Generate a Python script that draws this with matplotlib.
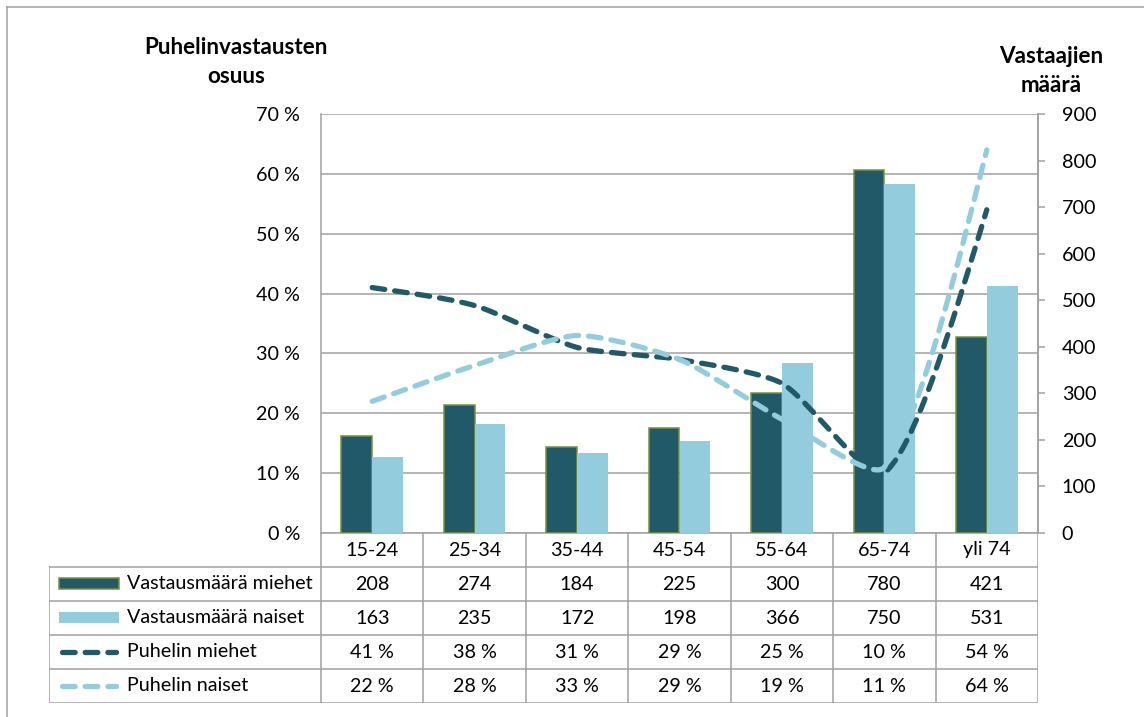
import matplotlib
matplotlib.use("Agg")
import matplotlib.pyplot as plt
import numpy as np
from matplotlib.lines import Line2D
from matplotlib.patches import Rectangle
from matplotlib.ticker import FuncFormatter

# data
categories = ["15-24", "25-34", "35-44", "45-54", "55-64", "65-74", "yli 74"]
count_men = [208, 274, 184, 225, 300, 780, 421]
count_women = [163, 235, 172, 198, 366, 750, 531]
phone_men = [41, 38, 31, 29, 25, 10, 54]
phone_women = [22, 28, 33, 29, 19, 11, 64]

series_names = ["Vastausmäärä miehet", "Vastausmäärä naiset",
                "Puhelin miehet", "Puhelin naiset"]

DARK = "#215968"
LIGHT = "#93CDDD"
EDGE = "#76923C"
GRID = "#a0a0a0"

plt.rcParams['font.family'] = ['Lato', 'DejaVu Sans']
FS = 14.2

W, H = 1144, 717


def fx(px):
    return px / W


def fy(py):
    return 1 - py / H


def smooth(ax, xs, ys, n=40, s=0.22):
    """Excel-like smoothed line: bezier segments, tangents weighted by
    the screen length of the neighbouring segments."""
    p = ax.transData.transform(np.column_stack([xs, ys]).astype(float))
    m = len(p)
    d = np.hypot(*np.diff(p, axis=0).T)
    c_out = np.zeros_like(p)
    c_in = np.zeros_like(p)
    for i in range(m):
        if i == 0 or i == m - 1:
            c_out[i] = p[i]
            c_in[i] = p[i]
            continue
        tan = p[i + 1] - p[i - 1]
        tot = d[i - 1] + d[i]
        c_out[i] = p[i] + tan * s * d[i] / tot
        c_in[i] = p[i] - tan * s * d[i - 1] / tot
    c_out[0] = p[0] + (c_in[1] - p[0]) * 0.5
    c_in[-1] = p[-1] + (c_out[-2] - p[-1]) * 0.5
    t = np.linspace(0, 1, n)[:, None]
    out = []
    for i in range(m - 1):
        a, b, c, e = p[i], c_out[i], c_in[i + 1], p[i + 1]
        seg = (1 - t) ** 3 * a + 3 * (1 - t) ** 2 * t * b \
            + 3 * (1 - t) * t ** 2 * c + t ** 3 * e
        out.append(seg if i == 0 else seg[1:])
    out = ax.transData.inverted().transform(np.vstack(out))
    return out[:, 0], out[:, 1]


fig = plt.figure(figsize=(W / 100, H / 100), dpi=100)

# main plot area
L, R, T, B = 321, 1038, 114, 533
ax = fig.add_axes([fx(L), fy(B), fx(R - L), (B - T) / H])
x = np.arange(len(categories))

ax.set_xlim(-0.5, len(categories) - 0.5)
ax.set_ylim(0, 70)
ax.set_yticks(np.arange(0, 71, 10))
ax.yaxis.set_major_formatter(FuncFormatter(lambda v, p: f"{v:.0f} %"))
ax.grid(axis='y', color=GRID, linewidth=1.1)
ax.set_axisbelow(True)
ax.tick_params(axis='y', length=0, pad=15, labelsize=FS)
ax.set_xticks(np.arange(-0.5, len(categories), 1.0))
ax.tick_params(axis='x', length=0, labelbottom=False)
ax.spines["top"].set_visible(False)
for side in ["left", "bottom", "right"]:
    ax.spines[side].set_color(GRID)
    ax.spines[side].set_linewidth(1.1)

# bars on the right axis
ax2 = ax.twinx()
ax2.set_ylim(0, 900)
ax2.set_yticks(np.arange(0, 901, 100))
ax2.tick_params(axis='y', length=5, width=1.1, color=GRID, pad=12, labelsize=FS)
for side in ["top", "left", "bottom"]:
    ax2.spines[side].set_visible(False)
ax2.spines["right"].set_color(GRID)
ax2.spines["right"].set_linewidth(1.1)
bw = 0.3
ax2.bar(x - bw / 2, count_men, width=bw, color=DARK, edgecolor=EDGE, linewidth=1.1)
ax2.bar(x + bw / 2, count_women, width=bw, color=LIGHT, linewidth=0)

# smoothed dashed lines on the left scale
ax3 = ax.twinx()
ax3.set_ylim(0, 70)
ax3.axis('off')
line_kw = dict(linewidth=3.8, dashes=(2.4, 1.9), dash_capstyle='round')
sx, sy = smooth(ax3, x, phone_men)
ax3.plot(sx, sy, color=DARK, **line_kw)
sx, sy = smooth(ax3, x, phone_women)
ax3.plot(sx, sy, color=LIGHT, **line_kw)

# axis titles
fig.text(fx(236), fy(62), "Puhelinvastausten\nosuus", ha='center', va='center',
         fontsize=16.2, fontweight='bold', linespacing=1.45)
fig.text(fx(1051), fy(71), "Vastaajien\nmäärä", ha='center', va='center',
         fontsize=16.2, fontweight='bold', linespacing=1.45)

# data table below the plot
TL, TB = 49, 703
tax = fig.add_axes([fx(TL), fy(TB), fx(R - TL), (TB - B) / H])
col_w = (R - L) / len(categories)
x_left = -0.5 - (L - TL) / col_w
tax.set_xlim(x_left, len(categories) - 0.5)
tax.set_ylim(5, 0)
tax.axis('off')

lkw = dict(color=GRID, linewidth=1.1, solid_capstyle='projecting')
for r in range(1, 6):
    tax.plot([x_left, len(categories) - 0.5], [r, r], **lkw)
tax.plot([x_left, x_left], [1, 5], **lkw)
for k in range(len(categories) + 1):
    tax.plot([k - 0.5, k - 0.5], [0, 5], **lkw)

for i, c in enumerate(categories):
    tax.text(i, 0.5, c, ha='center', va='center', fontsize=FS)

rows = [
    [str(v) for v in count_men],
    [str(v) for v in count_women],
    [f"{v} %" for v in phone_men],
    [f"{v} %" for v in phone_women],
]
for r, vals in enumerate(rows, start=1):
    for i, v in enumerate(vals):
        tax.text(i, r + 0.5, v, ha='center', va='center', fontsize=FS)

# legend keys + names in the first column
kx0 = x_left + 0.1
kx1 = kx0 + 0.58
tx = kx1 + 0.08
tax.add_patch(Rectangle((kx0, 1.32), kx1 - kx0, 0.33, facecolor=DARK,
                        edgecolor=EDGE, linewidth=1.1))
tax.add_patch(Rectangle((kx0, 2.32), kx1 - kx0, 0.33, facecolor=LIGHT,
                        linewidth=0))
tax.plot([kx0 + 0.03, kx1 - 0.03], [3.5, 3.5], color=DARK, **line_kw)
tax.plot([kx0 + 0.03, kx1 - 0.03], [4.5, 4.5], color=LIGHT, **line_kw)
for r, name in enumerate(series_names, start=1):
    tax.text(tx, r + 0.48, name, ha='left', va='center', fontsize=FS)

# outer frame (left and top edges visible)
fig.add_artist(Line2D([fx(7), fx(7)], [fy(7), 0], color=GRID, linewidth=1.1,
                      transform=fig.transFigure))
fig.add_artist(Line2D([fx(7), 1], [fy(7), fy(7)], color=GRID, linewidth=1.1,
                      transform=fig.transFigure))

fig.savefig("out.png", dpi=100, facecolor='white')
